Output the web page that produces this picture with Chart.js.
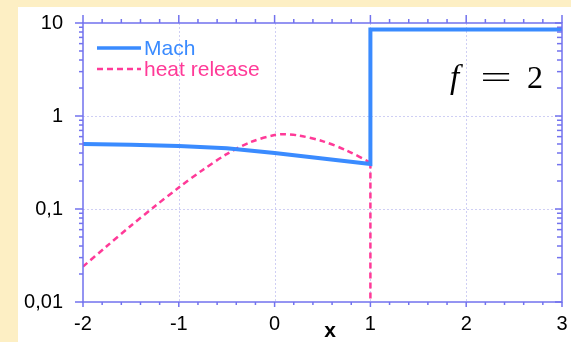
<!DOCTYPE html>
<html><head><meta charset="utf-8">
<script src="https://cdn.jsdelivr.net/npm/chart.js@4/dist/chart.umd.min.js"></script>
<style>
html,body{margin:0;padding:0;background:#fdefc4;}
#wrap{width:571px;height:342px;position:relative;}
canvas{display:block;}
</style>
</head><body>
<div id="wrap"><canvas id="c"></canvas></div>
<script>
// Mach number along x (step at the shock, x = 1)
const machX = [-2, -1.5, -1, -0.5, 0, 0.5, 1, 1, 3];
const machY = [0.50, 0.49, 0.476, 0.45, 0.40, 0.35, 0.305, 8.5, 8.5];
// Heat release profile
const heatX = [-2, -1.75, -1.5, -1.25, -1, -0.75, -0.5, -0.25, 0, 0.1, 0.25, 0.5, 0.75, 1];
const heatY = [0.024, 0.040, 0.066, 0.107, 0.17, 0.263, 0.389, 0.525, 0.624, 0.638, 0.617, 0.537, 0.427, 0.316];
// Heat release drops to zero at x = 1
const heatDropX = [1, 1];
const heatDropY = [0.316, 0.01];
// Axis ticks
const xTicks = [-2, -1, 0, 1, 2, 3];
const xTickLabels = ['-2', '-1', '0', '1', '2', '3'];
const yTicks = [0.01, 0.1, 1, 10];
const yTickLabels = ['0,01', '0,1', '1', '10'];
const seriesNames = ['Mach', 'heat release'];

const BLUE = '#3a8bff';
const PINK = '#ff3a98';
const AXIS = '#7272ee';
const GRID = '#cfcff4';
const FONT = '"Liberation Sans", Arial, Helvetica, sans-serif';
const SERIF = '"Liberation Serif", "Times New Roman", serif';

const pts = (xs, ys) => xs.map((x, i) => ({x: x, y: ys[i]}));

const framePlugin = {
  id: 'frame',
  beforeDraw(chart) {
    const c = chart.ctx;
    c.save();
    c.fillStyle = '#fdefc4';
    c.fillRect(0, 0, chart.width, chart.height);
    c.fillStyle = '#ffffff';
    c.fillRect(18, 7, chart.width - 18, chart.height - 7);
    c.restore();
  },
  beforeDatasetsDraw(chart) {
    const c = chart.ctx, a = chart.chartArea;
    const xs = chart.scales.x, ys = chart.scales.y;
    c.save();
    c.strokeStyle = GRID;
    c.lineWidth = 1;
    c.setLineDash([2, 2]);
    xTicks.slice(1, -1).forEach(v => {
      const px = Math.round(xs.getPixelForValue(v)) + 0.5;
      c.beginPath(); c.moveTo(px, a.top); c.lineTo(px, a.bottom); c.stroke();
    });
    yTicks.slice(1, -1).forEach(v => {
      const py = Math.round(ys.getPixelForValue(v)) + 0.5;
      c.beginPath(); c.moveTo(a.left, py); c.lineTo(a.right, py); c.stroke();
    });
    c.restore();
  },
  afterDatasetsDraw(chart) {
    const c = chart.ctx, a = chart.chartArea;
    const xs = chart.scales.x, ys = chart.scales.y;
    c.save();
    c.strokeStyle = AXIS;
    c.lineWidth = 1.5;
    c.setLineDash([]);
    c.strokeRect(a.left, a.top, a.right - a.left, a.bottom - a.top);
    const line = (x1, y1, x2, y2) => { c.beginPath(); c.moveTo(x1, y1); c.lineTo(x2, y2); c.stroke(); };
    // x ticks: major and minor (every 0.2)
    for (let i = 0; i <= 25; i++) {
      const v = -2 + i * 0.2;
      const major = i % 5 === 0;
      const px = xs.getPixelForValue(v);
      line(px, a.bottom, px, a.bottom + (major ? 5 : 3));
      line(px, a.top, px, a.top - (major ? 8 : 4));
    }
    // y ticks: decades and 2..9 within each decade
    yTicks.forEach((d, k) => {
      const py = ys.getPixelForValue(d);
      line(a.left, py, a.left - 8, py);
      line(a.right, py, a.right - 7, py);
      if (k < yTicks.length - 1) {
        for (let m = 2; m <= 9; m++) {
          const pm = ys.getPixelForValue(m * d);
          line(a.left, pm, a.left - 4, pm);
          line(a.right, pm, a.right - 5, pm);
        }
      }
    });
    // legend
    const ds = chart.data.datasets;
    const legend = [[ds[0], 48], [ds[1], 69]];
    legend.forEach(([d, y], i) => {
      c.strokeStyle = d.borderColor;
      c.lineWidth = i === 0 ? 3.5 : d.borderWidth;
      c.setLineDash(d.borderDash || []);
      line(97, y, 141, y);
      c.setLineDash([]);
      c.fillStyle = d.borderColor;
      c.font = '21px ' + FONT;
      c.textAlign = 'left';
      c.textBaseline = 'middle';
      c.fillText(seriesNames[i], 144, y + 1);
    });
    // annotation f = 2
    c.fillStyle = '#000';
    c.textBaseline = 'alphabetic';
    c.textAlign = 'left';
    c.font = 'italic 33px ' + SERIF;
    c.fillText('f', 450, 88);
    c.font = '32px ' + SERIF;
    c.save();
    c.translate(482, 88);
    c.scale(1.75, 1);
    c.fillText('=', -1, 0);
    c.restore();
    c.fillText('2', 527, 88);
    // x axis title
    c.font = 'bold 21px ' + FONT;
    c.textAlign = 'center';
    c.textBaseline = 'middle';
    c.fillText('x', 330, 331);
    c.restore();
  }
};

new Chart(document.getElementById('c'), {
  type: 'scatter',
  data: {
    datasets: [
      {label: seriesNames[0], data: pts(machX, machY), showLine: true, borderColor: BLUE,
       borderWidth: 4, pointRadius: 0, tension: 0, borderJoinStyle: 'miter'},
      {label: seriesNames[1], data: pts(heatX, heatY), showLine: true, borderColor: PINK,
       borderWidth: 2.5, borderDash: [6, 4], pointRadius: 0, tension: 0.3},
      {label: seriesNames[1], data: pts(heatDropX, heatDropY), showLine: true, borderColor: PINK,
       borderWidth: 2.5, borderDash: [6, 4], pointRadius: 0, tension: 0}
    ]
  },
  options: {
    responsive: true,
    maintainAspectRatio: false,
    animation: false,
    layout: {padding: {top: 23, right: 9, left: 0, bottom: 0}},
    plugins: {legend: {display: false}, tooltip: {enabled: false}},
    scales: {
      x: {
        type: 'linear', min: -2, max: 3,
        grid: {display: false, drawTicks: true, tickLength: 8, tickColor: 'rgba(0,0,0,0)', color: 'rgba(0,0,0,0)'},
        border: {display: false},
        afterBuildTicks: s => { s.ticks = xTicks.map(v => ({value: v})); },
        afterFit: s => { s.height = 40; },
        ticks: {
          padding: 2, color: '#000', font: {family: FONT, size: 20},
          maxRotation: 0, autoSkip: false,
          callback: v => xTickLabels[xTicks.indexOf(v)]
        }
      },
      y: {
        type: 'logarithmic', min: 0.01, max: 10,
        grid: {display: false, drawTicks: true, tickLength: 14, tickColor: 'rgba(0,0,0,0)', color: 'rgba(0,0,0,0)'},
        border: {display: false},
        afterBuildTicks: s => { s.ticks = yTicks.map(v => ({value: v})); },
        afterFit: s => { s.width = 83; },
        ticks: {
          padding: 6, color: '#000', font: {family: FONT, size: 20},
          autoSkip: false,
          callback: v => yTickLabels[yTicks.indexOf(v)]
        }
      }
    }
  },
  plugins: [framePlugin]
});
</script>
</body></html>
